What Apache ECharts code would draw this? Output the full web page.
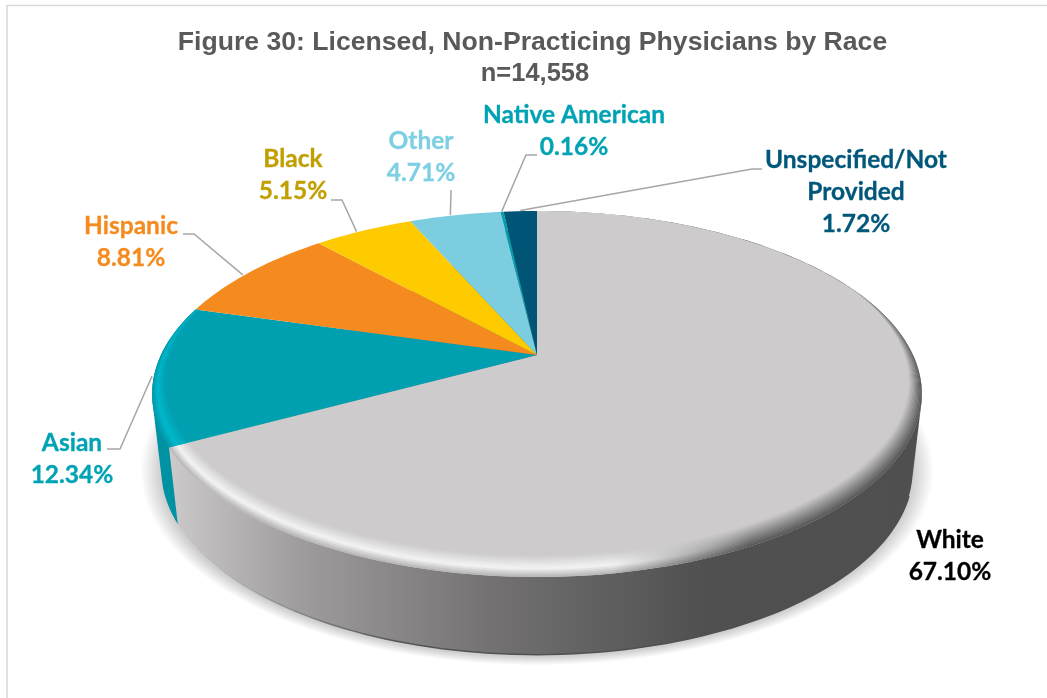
<!DOCTYPE html>
<html>
<head>
<meta charset="utf-8">
<style>
html, body { margin: 0; padding: 0; background: #fff; }
#chart { width: 1047px; height: 698px; }
</style>
<script src="https://cdn.jsdelivr.net/npm/echarts@6/dist/echarts.min.js"></script>
</head>
<body>
<div id="chart"></div>
<script>
const categories = ['White', 'Asian', 'Hispanic', 'Black', 'Other', 'Native American', 'Unspecified/Not\nProvided'];
const shares = [67.10, 12.34, 8.81, 5.15, 4.71, 0.16, 1.72];
const sliceColors = ['#cdcbcc', '#00a0b1', '#f58b1f', '#fdcb00', '#7dcde1', '#00a0b1', '#005577'];
const labelColors = ['#000000', '#00a3b4', '#f58b1f', '#c29f00', '#7dcfe3', '#00a3b4', '#00577a'];

// where the labels sit and how the leader lines bend, same order as categories
const labelPos = [[950, 524], [72, 427], [131, 210], [293, 143], [421, 125], [574, 99], [856, 144]];
const leaderBend = [null, [120, 449, 107, 449], [194, 234, 183, 234], [342, 200, 331, 200], [451, 192, 451, 190], [526, 155, 537, 155], [752, 169, 762, 169]];
const leaderNudge = [0, -0.5, -1.5, -1.2, -0.8, 0, 0];

// fake 3d: top disc with a bit of perspective, the base a little narrower and lower
const cam = { cx: 537, cy: 355, a: 376, b: 174.7, k: 0.213, baseY: 431, baseA: 367, baseB: 176 };
const total = shares.reduce((s, v) => s + v, 0);

function topPt(deg, r) {
  const t = deg * Math.PI / 180, x = Math.sin(t) * r, y = -Math.cos(t) * r, s = 1 / (1 - cam.k * y);
  return [cam.cx + cam.a * x * s, cam.cy + cam.b * y * s];
}
function basePt(deg) {
  const t = deg * Math.PI / 180, x = Math.sin(t), y = -Math.cos(t), s = 1 / (1 - cam.k * y);
  return [cam.cx + cam.baseA * x * s, cam.baseY + cam.baseB * y * s];
}
function arc(from, to, fn) {
  const pts = [], n = Math.max(2, Math.ceil((to - from) / 1.5));
  for (let i = 0; i <= n; i++) pts.push(fn(from + (to - from) * i / n));
  return pts;
}
// wall outline has to follow the tangent between top and base, so take the hull
function hull(points) {
  const p = points.slice().sort((a, b) => a[0] - b[0] || a[1] - b[1]);
  const cross = (o, a, b) => (a[0] - o[0]) * (b[1] - o[1]) - (a[1] - o[1]) * (b[0] - o[0]);
  const half = list => {
    const out = [];
    list.forEach(q => {
      while (out.length > 1 && cross(out[out.length - 2], out[out.length - 1], q) <= 0) out.pop();
      out.push(q);
    });
    out.pop();
    return out;
  };
  return half(p).concat(half(p.slice().reverse()));
}
// bevel gets thicker toward the viewer
function rimR(deg, t) {
  const y = -Math.cos(deg * Math.PI / 180);
  return 1 - t * Math.max(0.002, 0.004 + 0.055 * (y + 0.35));
}
function hGrad(stops) {
  return new echarts.graphic.LinearGradient(150, 0, 920, 0, stops, true);
}
function mix(c1, c2, f) {
  const p = c => [1, 3, 5].map(i => parseInt(c.substr(i, 2), 16));
  const a = p(c1), b = p(c2);
  return 'rgb(' + a.map((v, i) => Math.round(v + (b[i] - v) * f)).join(',') + ')';
}
// colours across the bevel, from outer edge (0) to inner edge (1)
function bevelColor(left, mid, right, inner, t) {
  const leftC = t < 0.4 ? mix(left, mid, t / 0.4) : mix(mid, inner, (t - 0.4) / 0.6);
  const rightC = mix(right, inner, t);
  return [leftC, rightC];
}

function renderSlice(params, api) {
  const i = params.dataIndex;
  const before = shares.slice(0, i).reduce((s, v) => s + v, 0);
  const start = before / total * 360, end = start + api.value(1) / total * 360;
  const mid = (start + end) / 2;
  const kids = [];

  // soft shadow on the floor, stacked see-through layers, one time only
  if (i === 0) {
    for (let g = 0; g < 12; g++) {
      const grow = 1 + (20 - g * 1.7) / 370;
      kids.push({
        type: 'polygon', z2: 1,
        shape: { points: arc(0, 360, d => {
          const p = basePt(d);
          return [cam.cx + (p[0] - cam.cx) * grow, 500 + (p[1] - 500) * grow + 2];
        }) },
        style: { fill: 'rgba(0,0,0,0.017)' }
      });
    }
  }

  // side wall, white goes over the asian one at the seam
  if (i <= 1) {
    const wall = hull(arc(start, end, d => topPt(d, 1)).concat(arc(start, end, basePt)));
    const fill = i === 0
      ? hGrad([{ offset: 0, color: '#d2d0d0' }, { offset: 0.2, color: '#9d9b9b' }, { offset: 0.45, color: '#727071' }, { offset: 0.72, color: '#505050' }, { offset: 1, color: '#4f4f4f' }])
      : '#0092a3';
    kids.push({ type: 'polygon', z2: i === 0 ? 3 : 2, shape: { points: wall }, style: { fill: fill } });
    if (i === 0) {
      kids.push({
        type: 'polyline', z2: 3,
        shape: { points: arc(110, 232, basePt) },
        style: { fill: 'none', lineWidth: 1.5, stroke: hGrad([{ offset: 0.08, color: 'rgba(80,80,80,0)' }, { offset: 0.32, color: 'rgba(75,75,75,0.9)' }, { offset: 1, color: '#4f4f4f' }]) }
      });
    }
  }

  // top face
  kids.push({
    type: 'polygon', z2: 4,
    shape: { points: [[cam.cx, cam.cy]].concat(arc(start, end, d => topPt(d, 1))) },
    style: { fill: api.visual('color') }
  });

  // bevel along the rim
  if (i <= 1) {
    const steps = 12;
    for (let s = 0; s < steps; s++) {
      const t0 = s / steps, t1 = Math.min((s + 1.3) / steps, 1);
      const ring = arc(start, end, d => topPt(d, rimR(d, t0))).concat(arc(start, end, d => topPt(d, rimR(d, t1))).reverse());
      const c = i === 0
        ? bevelColor('#b4b2b2', '#f4f4f4', '#555555', '#cdcbcc', (s + 0.5) / steps)
        : bevelColor('#0097a8', '#00b8cb', '#00a0b1', '#00a0b1', (s + 0.5) / steps);
      kids.push({
        type: 'polygon', z2: 5,
        shape: { points: ring },
        style: { fill: hGrad([{ offset: 0, color: c[0] }, { offset: 0.6, color: c[0] }, { offset: 0.78, color: c[1] }, { offset: 1, color: c[1] }]) }
      });
    }
  }

  // leader line
  const bend = leaderBend[i];
  if (bend) {
    kids.push({
      type: 'polyline', z2: 6,
      shape: { points: [topPt(mid + leaderNudge[i], 1.005), [bend[0], bend[1]], [bend[2], bend[3]]] },
      style: { fill: 'none', stroke: '#a6a6a6', lineWidth: 1.5 }
    });
  }

  // label
  kids.push({
    type: 'text', z2: 7, x: labelPos[i][0], y: labelPos[i][1],
    style: {
      text: categories[i] + '\n' + api.value(1).toFixed(2) + '%',
      fill: labelColors[i], font: 'bold 24.5px Lato, "Noto Sans", sans-serif',
      stroke: labelColors[i], lineWidth: 0.3,
      lineHeight: 32, align: 'center', verticalAlign: 'top'
    }
  });
  return { type: 'group', children: kids };
}

const chart = echarts.init(document.getElementById('chart'), null, { renderer: 'canvas' });
chart.setOption({
  animation: false,
  backgroundColor: '#fff',
  title: [{
    text: 'Figure 30: Licensed, Non-Practicing Physicians by Race',
    left: 532.5, top: 29, padding: 0, textAlign: 'center',
    textStyle: { color: '#595959', fontFamily: '"Liberation Sans", Arial, sans-serif', fontWeight: 'bold', fontSize: 26.6 }
  }, {
    text: 'n=14,558',
    left: 535, top: 61, padding: 0, textAlign: 'center',
    textStyle: { color: '#595959', fontFamily: '"Liberation Sans", Arial, sans-serif', fontWeight: 'bold', fontSize: 25.5 }
  }],
  graphic: [{
    type: 'rect', z: -1,
    shape: { x: 7, y: 5.5, width: 1100, height: 760 },
    style: { fill: 'none', stroke: '#d9d9d9', lineWidth: 1.6 }
  }],
  series: [{
    type: 'custom',
    coordinateSystem: 'none',
    renderItem: renderSlice,
    data: shares.map((v, i) => ({ value: [i, v], name: categories[i], itemStyle: { color: sliceColors[i] } }))
  }]
});
</script>
</body>
</html>
